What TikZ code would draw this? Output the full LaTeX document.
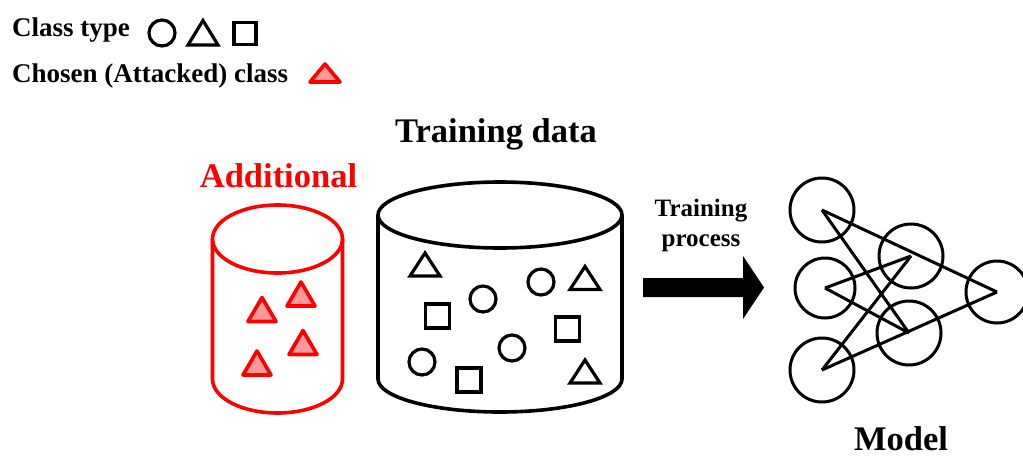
\documentclass[tikz,border=0pt]{standalone}
\usepackage{fontspec}
\setmainfont{Liberation Serif}
\begin{document}
\begin{tikzpicture}[x=1pt,y=1pt,
  shapeline/.style={draw=black,line width=3.2pt,line join=miter},
  redtri/.style={draw=red,line width=3.6pt,fill=red!40,line join=round},
  cylblack/.style={draw=black,line width=3.6pt},
  cylred/.style={draw=red,line width=3.6pt},
  neuron/.style={circle,draw=black,line width=3pt,inner sep=0pt,minimum size=64pt},
  link/.style={draw=black,line width=3pt},
  title/.style={font=\bfseries\fontsize{34.5}{40}\selectfont,anchor=base,inner sep=0pt},
  legend/.style={font=\bfseries\fontsize{27}{32}\selectfont,anchor=base west,inner sep=0pt},
  tri/.pic={\path[pic actions] (-15,-11.5) -- (15,-11.5) -- (0,11.5) -- cycle;},
  sq/.pic={\path[pic actions] (-12,-12) rectangle (12,12);},
  circ/.pic={\path[pic actions] (0,0) circle[radius=13];},
  rtri/.pic={\path[pic actions] (-14,-12) -- (14,-12) -- (0,12) -- cycle;},
]
\useasboundingbox (0,0) rectangle (1023,-459);

% legend
\node[legend] (lg1) at (12,-36) {Class type};
\node[legend] (lg2) at (12,-82) {Chosen (Attacked) class};
\draw[shapeline] (162,-33) circle[radius=13];
\draw[shapeline] (188,-45) -- (218,-45) -- (203,-20.5) -- cycle;
\draw[shapeline] (234,-22.5) rectangle (256,-44.5);
\draw[redtri] (310,-82) -- (340,-82) -- (325,-64) -- cycle;

% titles
\node[title,text=red] (addl) at (278.5,-187) {Additional};
\node[title] (tdata) at (496,-142) {Training data};
\node[title] (model) at (901,-450) {Model};
\node[font=\bfseries\fontsize{25}{30}\selectfont,align=center,anchor=base] (tproc) at (701,-246.5) {Training\\process};

% additional data cylinder
\draw[cylred] (277.5,-239) ellipse[x radius=65,y radius=34];
\draw[cylred] (212.5,-239) -- (212.5,-379)
  arc[start angle=180,end angle=360,x radius=65,y radius=34] -- (342.5,-239);
\pic[redtri] at (262,-309.5) {rtri};
\pic[redtri] at (301,-294) {rtri};
\pic[redtri] at (303,-342.5) {rtri};
\pic[redtri] at (257,-363) {rtri};

% training data cylinder
\draw[cylblack] (500,-215) ellipse[x radius=122,y radius=33];
\draw[cylblack] (378,-215) -- (378,-379)
  arc[start angle=180,end angle=360,x radius=122,y radius=33] -- (622,-215);
\pic[shapeline] at (425,-264.5) {tri};
\pic[shapeline] at (585,-278) {tri};
\pic[shapeline] at (585,-371.5) {tri};
\pic[shapeline] at (483,-299) {circ};
\pic[shapeline] at (541,-282) {circ};
\pic[shapeline] at (512,-348) {circ};
\pic[shapeline] at (422,-362) {circ};
\pic[shapeline] at (437.5,-316) {sq};
\pic[shapeline] at (567.5,-329) {sq};
\pic[shapeline] at (469,-380) {sq};

% training arrow
\fill[black] (643,-278) -- (743,-278) -- (743,-256) -- (764,-287.5)
  -- (743,-319) -- (743,-297) -- (643,-297) -- cycle;

% model network
\node[neuron] (i1) at (822,-210) {};
\node[neuron,minimum size=60pt] (i2) at (825,-288) {};
\node[neuron] (i3) at (822,-370) {};
\node[neuron] (h1) at (911,-256) {};
\node[neuron] (h2) at (909,-333) {};
\node[neuron,minimum size=62pt] (o) at (997,-292) {};
\draw[link] (i1.center) -- (o.center);
\draw[link] (i1.center) -- (h2.center);
\draw[link] (i2.center) -- (h1.center);
\draw[link] (i2.center) -- (h2.center);
\draw[link] (i3.center) -- (h1.center);
\draw[link] (i3.center) -- (o.center);
\end{tikzpicture}
\end{document}
